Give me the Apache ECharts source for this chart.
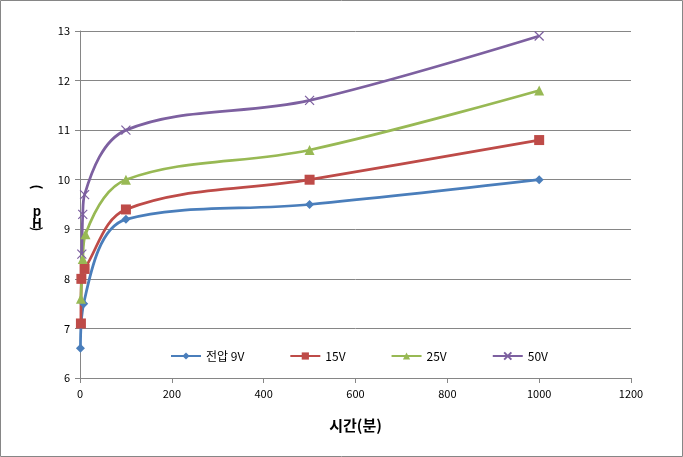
<!DOCTYPE html>
<html><head><meta charset="utf-8">
<script src="https://cdn.jsdelivr.net/npm/echarts@6/dist/echarts.min.js"></script>
<style>html,body{margin:0;padding:0;background:#fff}#c{width:683px;height:457px}</style>
</head><body><div id="c"></div>
<script>
const seriesNames = ['전압 9V', '15V', '25V', '50V'];
const t9 = [1, 8, 100, 500, 1000];
const v9 = [6.6, 7.5, 9.2, 9.5, 10.0];
const t15 = [2, 3, 10, 100, 500, 1000];
const v15 = [7.1, 8.0, 8.2, 9.4, 10.0, 10.8];
const t25 = [2, 6, 12, 100, 500, 1000];
const v25 = [7.6, 8.4, 8.9, 10.0, 10.6, 11.8];
const t50 = [4, 6, 10, 100, 500, 1000];
const v50 = [8.5, 9.3, 9.7, 11.0, 11.6, 12.9];
const xTicks = [0, 200, 400, 600, 800, 1000, 1200];
const yTicks = [6, 7, 8, 9, 10, 11, 12, 13];

const colors = ['#4A7EBB', '#BE4B48', '#98B954', '#7D60A0'];
const symbols = ['diamond', 'rect', 'triangle', 'path://M0,0L10,10M10,0L0,10'];
const sizes = [9, 10, 10, 9];
const pairs = (t, v) => t.map((x, i) => [x, v[i]]);
const datas = [pairs(t9, v9), pairs(t15, v15), pairs(t25, v25), pairs(t50, v50)];
const ff = '"Noto Sans CJK KR", "DejaVu Sans", sans-serif';
const lbl = {fontSize: 13, fontWeight: 'bold', fill: '#000', align: 'center', verticalAlign: 'middle', fontFamily: ff};

const chart = echarts.init(document.getElementById('c'));
chart.setOption({
  animation: false,
  textStyle: {fontFamily: ff},
  graphic: [
    {type: 'rect', shape: {x: 0.5, y: 0.5, width: 682, height: 456}, style: {fill: 'none', stroke: '#868686', lineWidth: 1}, silent: true},
    {type: 'text', x: 37, y: 187, rotation: -Math.PI / 2, style: Object.assign({text: '('}, lbl)},
    {type: 'text', x: 37, y: 211, style: Object.assign({text: 'p'}, lbl)},
    {type: 'text', x: 37, y: 223, style: Object.assign({text: 'H'}, lbl)},
    {type: 'text', x: 37, y: 229, rotation: -Math.PI / 2, style: Object.assign({text: ')'}, lbl)}
  ],
  grid: {left: 80, right: 52, top: 31, bottom: 79},
  legend: {
    left: 165, top: 345, itemGap: 45, itemWidth: 30, itemHeight: 9,
    data: seriesNames,
    textStyle: {fontSize: 12, color: '#000'}
  },
  xAxis: {
    type: 'value', min: xTicks[0], max: xTicks[xTicks.length - 1], interval: 200,
    name: '시간(분)', nameLocation: 'middle', nameGap: 40,
    nameTextStyle: {fontSize: 15, fontWeight: 'bold', color: '#000'},
    axisLine: {lineStyle: {color: '#868686'}},
    axisTick: {show: true, length: 5, lineStyle: {color: '#868686'}},
    axisLabel: {fontSize: 11, color: '#000', margin: 10, formatter: v => String(v)},
    splitLine: {show: false}
  },
  yAxis: {
    type: 'value', min: yTicks[0], max: yTicks[yTicks.length - 1], interval: 1,
    axisLine: {show: true, lineStyle: {color: '#868686'}},
    axisTick: {show: true, length: 5, lineStyle: {color: '#868686'}},
    axisLabel: {fontSize: 11, color: '#000', margin: 10},
    splitLine: {lineStyle: {color: '#868686'}}
  },
  series: seriesNames.map((n, i) => ({
    name: n, type: 'line', data: datas[i], smooth: 0.35,
    symbol: symbols[i], symbolSize: sizes[i],
    lineStyle: {color: colors[i], width: 2.75},
    itemStyle: i === 3 ? {color: colors[i], borderColor: colors[i], borderWidth: 1.2} : {color: colors[i]}
  }))
});
</script></body></html>
